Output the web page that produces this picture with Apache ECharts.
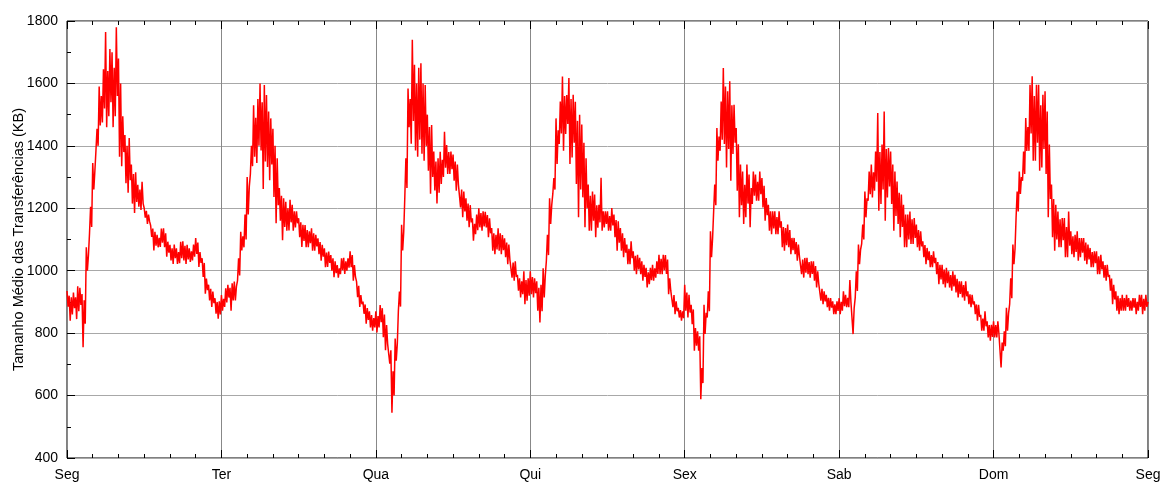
<!DOCTYPE html>
<html>
<head>
<meta charset="utf-8">
<title>Tamanho Médio das Transferências</title>
<script src="https://cdn.jsdelivr.net/npm/echarts@6/dist/echarts.min.js"></script>
<style>
  html, body { margin: 0; padding: 0; background: #ffffff; }
  #chart { width: 1162px; height: 482px; }
</style>
</head>
<body>
<div id="chart"></div>
<script>
// Day labels on the x axis (one tick every 24 hours)
const dayLabels = ['Seg', 'Ter', 'Qua', 'Qui', 'Sex', 'Sab', 'Dom', 'Seg'];

// Sampling step of the series, in hours (10 minutes)
const stepHours = 1 / 6;

// Mean transfer size (KB), one array per day, sampled every 10 minutes
const seg = [
  935, 885, 920, 840, 915, 860, 930, 880, 915, 845, 950, 870,
  945, 890, 925, 755, 905, 830, 1075, 1000, 1050, 1120, 1205, 1140,
  1345, 1260, 1320, 1385, 1455, 1400, 1590, 1465, 1560, 1475, 1645, 1520,
  1765, 1460, 1640, 1495, 1710, 1540, 1700, 1460, 1650, 1495, 1780, 1560,
  1680, 1365, 1600, 1335, 1495, 1380, 1435, 1280, 1400, 1250, 1425, 1290,
  1340, 1215, 1310, 1185, 1315, 1220, 1275, 1205, 1260, 1195, 1285, 1215,
  1200, 1170, 1192, 1150, 1180, 1158, 1145, 1108, 1135, 1065, 1125, 1080,
  1115, 1075, 1105, 1076, 1135, 1090, 1136, 1075, 1120, 1045, 1093, 1058,
  1083, 1033, 1072, 1022, 1084, 1040, 1072, 1022, 1060, 1024, 1093, 1040,
  1094, 1033, 1080, 1022, 1083, 1036, 1072, 1028, 1062, 1033, 1084, 1045,
  1105, 1054, 1090, 1012, 1060, 1025, 1040, 980, 1025, 926, 975, 938,
  955, 905, 942, 884, 933, 896, 912, 862, 900, 846, 902, 860
];
const ter = [
  922, 872, 910, 884, 944, 898, 955, 914, 945, 872, 960, 905,
  965, 905, 950, 968, 1040, 985, 1125, 1065, 1110, 1075, 1180, 1100,
  1300, 1180, 1270, 1310, 1400, 1335, 1530, 1365, 1490, 1345, 1550, 1400,
  1600, 1385, 1540, 1262, 1595, 1350, 1563, 1332, 1510, 1290, 1488, 1340,
  1455, 1236, 1400, 1152, 1360, 1210, 1265, 1160, 1240, 1098, 1232, 1140,
  1221, 1128, 1200, 1129, 1227, 1155, 1211, 1128, 1190, 1139, 1190, 1152,
  1168, 1107, 1155, 1076, 1147, 1095, 1146, 1075, 1130, 1075, 1126, 1088,
  1136, 1064, 1120, 1064, 1115, 1078, 1104, 1053, 1092, 1032, 1083, 1045,
  1072, 1011, 1058, 1012, 1061, 1025, 1050, 1000, 1040, 979, 1030, 992,
  1018, 978, 1008, 989, 1040, 1002, 1041, 990, 1030, 1000, 1040, 1010,
  1062, 1011, 1050, 968, 1018, 980, 965, 915, 952, 884, 922, 893,
  901, 862, 892, 830, 880, 842, 870, 818, 858, 808, 848, 818
];
const qua = [
  870, 802, 855, 818, 890, 835, 880, 787, 860, 745, 826, 765,
  762, 702, 745, 545, 678, 600, 783, 712, 765, 872, 933, 885,
  1147, 1065, 1125, 1236, 1360, 1265, 1584, 1460, 1550, 1407, 1740, 1480,
  1660, 1385, 1600, 1365, 1650, 1420, 1665, 1375, 1600, 1352, 1595, 1400,
  1500, 1320, 1460, 1247, 1467, 1300, 1382, 1257, 1350, 1215, 1360, 1250,
  1381, 1278, 1355, 1300, 1445, 1330, 1403, 1310, 1380, 1310, 1382, 1325,
  1372, 1288, 1350, 1256, 1340, 1275, 1276, 1203, 1260, 1171, 1254, 1190,
  1232, 1160, 1215, 1139, 1210, 1155, 1168, 1096, 1150, 1117, 1180, 1130,
  1200, 1139, 1185, 1128, 1190, 1142, 1189, 1139, 1178, 1107, 1168, 1120,
  1137, 1064, 1120, 1053, 1115, 1068, 1136, 1064, 1120, 1053, 1114, 1066,
  1104, 1043, 1090, 1021, 1084, 1035, 1041, 978, 1026, 968, 1030, 980,
  987, 936, 976, 914, 966, 925, 998, 893, 970, 904, 976, 920
];
const qui = [
  998, 925, 980, 914, 976, 928, 966, 872, 945, 834, 955, 870,
  1008, 914, 985, 1032, 1115, 1050, 1232, 1150, 1210, 1246, 1297, 1260,
  1488, 1342, 1450, 1406, 1542, 1440, 1622, 1384, 1560, 1438, 1563, 1470,
  1617, 1342, 1550, 1363, 1564, 1410, 1541, 1278, 1480, 1171, 1500, 1260,
  1468, 1235, 1410, 1139, 1360, 1200, 1276, 1128, 1240, 1128, 1254, 1160,
  1244, 1107, 1210, 1138, 1211, 1155, 1298, 1128, 1190, 1139, 1190, 1150,
  1190, 1128, 1175, 1128, 1201, 1145, 1180, 1107, 1162, 1064, 1158, 1090,
  1137, 1064, 1120, 1043, 1105, 1058, 1084, 1021, 1070, 1021, 1094, 1040,
  1062, 1000, 1048, 989, 1051, 1004, 1041, 989, 1030, 968, 1019, 980,
  1009, 946, 995, 957, 1009, 970, 1019, 968, 1008, 978, 1030, 990,
  1051, 989, 1038, 989, 1051, 1002, 1050, 990, 1036, 925, 976, 936,
  934, 883, 922, 861, 902, 870, 881, 850, 874, 840, 870, 848
];
const sex = [
  955, 872, 930, 850, 923, 866, 891, 829, 876, 744, 816, 760,
  806, 744, 790, 588, 688, 640, 891, 797, 865, 850, 934, 870,
  1126, 1043, 1105, 1192, 1276, 1210, 1457, 1352, 1430, 1384, 1542, 1420,
  1649, 1406, 1590, 1331, 1575, 1390, 1607, 1288, 1530, 1374, 1532, 1410,
  1457, 1256, 1405, 1171, 1340, 1210, 1318, 1150, 1275, 1171, 1340, 1215,
  1308, 1139, 1265, 1214, 1318, 1240, 1308, 1224, 1285, 1224, 1318, 1245,
  1297, 1203, 1272, 1160, 1233, 1178, 1211, 1128, 1190, 1117, 1190, 1135,
  1190, 1117, 1172, 1117, 1190, 1138, 1158, 1075, 1140, 1064, 1137, 1082,
  1148, 1075, 1130, 1053, 1105, 1066, 1105, 1053, 1092, 1032, 1084, 1045,
  1051, 989, 1036, 978, 1041, 994, 1041, 989, 1028, 978, 1030, 990,
  1030, 968, 1015, 946, 998, 958, 955, 904, 942, 893, 934, 902,
  923, 883, 913, 872, 912, 882, 902, 861, 892, 861, 902, 871
];
const sab = [
  912, 861, 900, 872, 934, 886, 923, 883, 913, 883, 970, 900,
  902, 797, 880, 914, 998, 935, 1084, 1021, 1068, 1086, 1148, 1100,
  1254, 1171, 1232, 1224, 1318, 1245, 1340, 1235, 1315, 1256, 1382, 1285,
  1505, 1192, 1380, 1214, 1404, 1260, 1510, 1160, 1390, 1235, 1393, 1270,
  1382, 1214, 1340, 1128, 1318, 1175, 1286, 1150, 1250, 1107, 1244, 1140,
  1211, 1075, 1180, 1075, 1180, 1100, 1190, 1086, 1165, 1086, 1169, 1105,
  1148, 1075, 1130, 1064, 1126, 1078, 1094, 1043, 1082, 1021, 1073, 1034,
  1062, 1011, 1050, 1011, 1062, 1024, 1041, 989, 1028, 957, 1019, 972,
  1019, 957, 1004, 946, 1009, 960, 998, 946, 986, 936, 998, 950,
  987, 930, 974, 914, 966, 926, 966, 914, 954, 904, 966, 918,
  934, 893, 924, 883, 923, 892, 902, 861, 892, 840, 891, 852,
  859, 808, 847, 808, 870, 822, 838, 786, 826, 776, 827, 788
];
const dom = [
  838, 786, 826, 786, 838, 798, 795, 690, 770, 744, 806, 758,
  881, 808, 864, 893, 976, 912, 1084, 1021, 1070, 1171, 1254, 1190,
  1318, 1246, 1300, 1288, 1382, 1310, 1489, 1384, 1460, 1384, 1596, 1440,
  1623, 1352, 1560, 1352, 1596, 1410, 1596, 1320, 1530, 1331, 1564, 1390,
  1575, 1310, 1510, 1171, 1404, 1230, 1276, 1107, 1230, 1064, 1211, 1100,
  1190, 1075, 1165, 1075, 1169, 1098, 1169, 1043, 1140, 1043, 1190, 1080,
  1126, 1053, 1110, 1043, 1115, 1060, 1126, 1032, 1105, 1043, 1105, 1058,
  1105, 1032, 1090, 1021, 1084, 1036, 1073, 1011, 1060, 1011, 1062, 1024,
  1062, 989, 1046, 989, 1051, 1004, 1030, 978, 1018, 968, 1019, 980,
  987, 936, 975, 893, 955, 908, 934, 872, 920, 861, 912, 872,
  923, 872, 912, 872, 923, 884, 912, 872, 904, 872, 912, 882,
  912, 861, 900, 872, 923, 884, 923, 861, 910, 872, 923, 884,
  900
];

const values = [].concat(seg, ter, qua, qui, sex, sab, dom);
const seriesData = values.map((v, i) => [i * stepHours, v]);

const textStyle = {
  fontFamily: '"Liberation Sans", Arial, Helvetica, sans-serif',
  fontSize: 14,
  color: '#000000'
};

const chart = echarts.init(document.getElementById('chart'), null, { renderer: 'canvas' });

chart.setOption({
  animation: false,
  backgroundColor: '#ffffff',
  grid: {
    left: 67,
    right: 14,
    top: 21,
    bottom: 24,
    show: true,
    borderColor: '#000000',
    borderWidth: 1,
    backgroundColor: 'transparent',
    containLabel: false,
    outerBoundsMode: 'none'
  },
  xAxis: [
    {
      type: 'value',
      min: 0,
      max: 168,
      interval: 24,
      axisLine: { show: false },
      axisTick: { show: true, inside: true, length: 8, lineStyle: { color: '#000000', width: 1 } },
      minorTick: { show: true, splitNumber: 6, length: 4, lineStyle: { color: '#000000', width: 1 } },
      splitLine: { show: true, lineStyle: { color: '#888888', width: 1 } },
      axisLabel: Object.assign({
        margin: 10,
        showMinLabel: true,
        showMaxLabel: true,
        formatter: v => dayLabels[Math.round(v / 24)]
      }, textStyle)
    },
    {
      type: 'value',
      position: 'top',
      min: 0,
      max: 168,
      interval: 24,
      axisLine: { show: false },
      axisTick: { show: true, inside: true, length: 8, lineStyle: { color: '#000000', width: 1 } },
      minorTick: { show: true, splitNumber: 6, length: 4, lineStyle: { color: '#000000', width: 1 } },
      splitLine: { show: false },
      axisLabel: { show: false }
    }
  ],
  yAxis: {
    type: 'value',
    min: 400,
    max: 1800,
    interval: 200,
    name: 'Tamanho Médio das Transferências (KB)',
    nameLocation: 'middle',
    nameGap: 41,
    nameMoveOverlap: false,
    nameRotate: 90,
    nameTextStyle: Object.assign({}, textStyle, { fontSize: 14.5 }),
    axisLine: { show: false },
    axisTick: { show: true, inside: true, length: 8, lineStyle: { color: '#000000', width: 1 } },
    minorTick: { show: true, splitNumber: 2, length: 4, lineStyle: { color: '#000000', width: 1 } },
    splitLine: { show: true, lineStyle: { color: '#a8a8a8', width: 1 } },
    axisLabel: Object.assign({
      margin: 9,
      showMinLabel: true,
      showMaxLabel: true,
      formatter: v => String(v)
    }, textStyle)
  },
  series: [
    {
      type: 'line',
      xAxisIndex: 0,
      data: seriesData,
      showSymbol: false,
      symbol: 'none',
      sampling: null,
      lineStyle: { color: '#ff0000', width: 1.5 },
      itemStyle: { color: '#ff0000' },
      z: 5
    }
  ]
});
</script>
</body>
</html>
